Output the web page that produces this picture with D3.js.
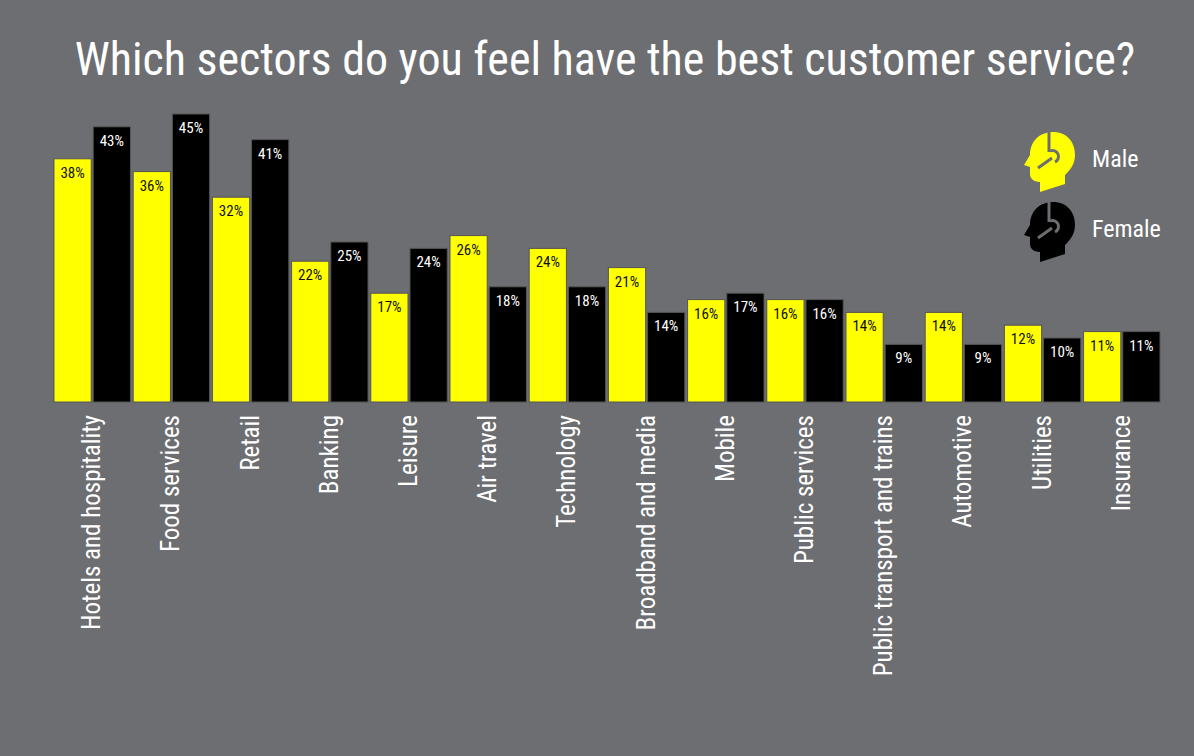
<!DOCTYPE html>
<html><head><meta charset="utf-8">
<script src="https://cdn.jsdelivr.net/npm/d3@7"></script>
<style>
body{margin:0;background:#6d6e71;}
text{font-family:"Liberation Sans Narrow","Roboto Condensed","Liberation Sans",sans-serif;}
</style></head>
<body>
<svg id="chart" width="1194" height="756"></svg>
<script>
var sectors = ["Hotels and hospitality","Food services","Retail","Banking","Leisure","Air travel","Technology","Broadband and media","Mobile","Public services","Public transport and trains","Automotive","Utilities","Insurance"];
var male = [38,36,32,22,17,26,24,21,16,16,14,14,12,11];
var female = [43,45,41,25,24,18,18,14,17,16,9,9,10,11];
var series = [{name:"Male",values:male,fill:"#ffff00",text:"#111"},{name:"Female",values:female,fill:"#000000",text:"#fff"}];

var svg = d3.select("#chart");
svg.append("rect").attr("width",1194).attr("height",756).attr("fill","#6d6e71");

svg.append("text").attr("x",605).attr("y",75).attr("text-anchor","middle")
	.attr("fill","#fff").attr("font-size",46).text("Which sectors do you feel have the best customer service?");

var x = d3.scaleBand().domain(sectors).range([54,1160]).paddingInner(0.035).paddingOuter(0);
var y = d3.scaleLinear().domain([0,45]).range([402,114]);
var sub = d3.scaleBand().domain([0,1]).range([0,x.bandwidth()]).paddingInner(0.05);

series.forEach(function(s,i){
	var g = svg.append("g");
	g.selectAll("rect").data(s.values).enter().append("rect")
		.attr("x",function(d,j){return x(sectors[j])+sub(i);})
		.attr("y",function(d){return y(d);})
		.attr("width",sub.bandwidth())
		.attr("height",function(d){return y(0)-y(d);})
		.attr("fill",s.fill).attr("stroke","#555").attr("stroke-width",1);
	g.selectAll("text").data(s.values).enter().append("text")
		.attr("x",function(d,j){return x(sectors[j])+sub(i)+sub.bandwidth()/2;})
		.attr("y",function(d){return y(d)+19;})
		.attr("text-anchor","middle").attr("font-size",15).attr("fill",s.text)
		.text(function(d){return d+"%";});
});

//category labels
svg.append("g").selectAll("text").data(sectors).enter().append("text")
	.attr("transform",function(d){return "translate("+(x(d)+x.bandwidth()/2+8)+",415) rotate(-90)";})
	.attr("text-anchor","end").attr("font-size",25).attr("fill","#fff")
	.text(function(d){return d;});

//legend
var headPath = "M18,62 L18,52 C11,52 8,48 8,44 L8,37 L2,35 L8,25 C8,11 18,2 31,2 C45,2 53,12 53,25 C53,35 47,41 43,45 L43,54 Z";
series.forEach(function(s,i){
	var lg = svg.append("g").attr("transform","translate(1022,"+(130+i*70)+")");
	lg.append("path").attr("d",headPath).attr("fill",s.fill);
	lg.append("line").attr("x1",27).attr("y1",2).attr("x2",27).attr("y2",22).attr("stroke","#6d6e71").attr("stroke-width",3);
	lg.append("path").attr("d","M28,21 A6,6 0 1 1 33,32").attr("fill","none").attr("stroke","#6d6e71").attr("stroke-width",3);
	lg.append("line").attr("x1",30).attr("y1",28).attr("x2",16).attr("y2",38).attr("stroke","#6d6e71").attr("stroke-width",3);
	lg.append("text").attr("x",70).attr("y",37).attr("font-size",24).attr("fill","#fff").text(s.name);
});
</script>
</body></html>
